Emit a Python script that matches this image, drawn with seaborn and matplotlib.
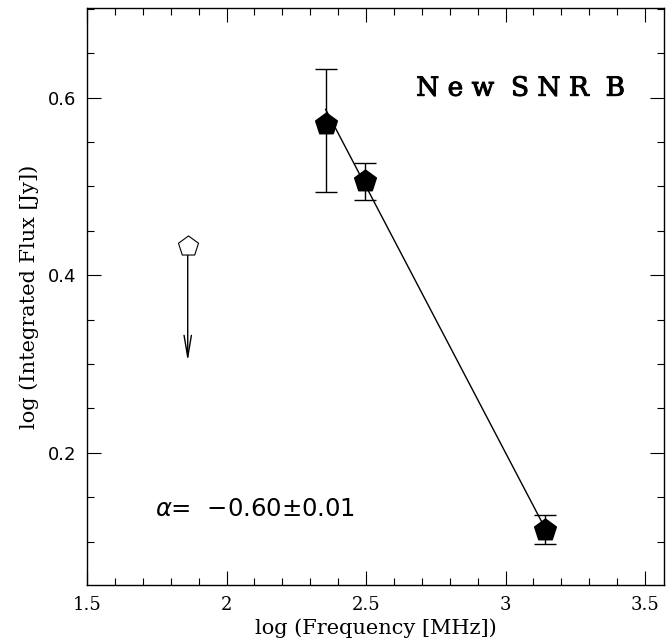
import numpy as np
import matplotlib
matplotlib.use('Agg')
import matplotlib.pyplot as plt
import matplotlib.patheffects as pe
import seaborn as sns
from matplotlib.ticker import MultipleLocator

# detections: log frequency [MHz], log integrated flux [Jy], asymmetric errors
log_freq = [2.355, 2.496, 3.140]
log_flux = [0.570, 0.506, 0.113]
err_lo = [0.076, 0.021, 0.016]
err_hi = [0.062, 0.020, 0.017]

# upper limit
ul_freq = [1.861]
ul_flux = [0.4325]
ul_end = [0.30]

# power-law fit
alpha = -0.60
alpha_err = 0.01
fit_const = 2.0
fit_range = [2.355, 3.14]

sns.set_theme(style='ticks')
plt.rcParams['font.family'] = ['DejaVu Serif']
plt.rcParams['text.color'] = 'black'
plt.rcParams['axes.labelcolor'] = 'black'
plt.rcParams['xtick.color'] = 'black'
plt.rcParams['ytick.color'] = 'black'

fig = plt.figure(figsize=(6.72, 6.44), dpi=100)
ax = fig.add_axes([87 / 672, 1 - 585 / 644, 577 / 672, 577 / 644])

fx = np.array(fit_range)
ax.plot(fx, fit_const + alpha * fx, color='black', lw=1.0, zorder=2)

ax.errorbar(log_freq, log_flux, yerr=[err_lo, err_hi], fmt='none',
            ecolor='black', elinewidth=1.0, capsize=7.8, capthick=1.0, zorder=3)
sns.scatterplot(x=log_freq, y=log_flux, marker='p', s=260, color='black',
                edgecolor='black', ax=ax, zorder=4, legend=False)

for x0, y0, y1 in zip(ul_freq, ul_flux, ul_end):
    ax.annotate('', xy=(x0, y1), xytext=(x0, y0),
                arrowprops=dict(arrowstyle='->, head_length=1.3, head_width=0.22',
                                color='black', lw=1.0), zorder=3)
sns.scatterplot(x=ul_freq, y=ul_flux, marker='p', s=230, facecolor='white',
                edgecolor='black', linewidth=0.8, ax=ax, zorder=4, legend=False)

ax.set_xlim(1.5, 3.568)
ax.set_ylim(0.051, 0.701)
ax.xaxis.set_major_locator(MultipleLocator(0.5))
ax.xaxis.set_minor_locator(MultipleLocator(0.1))
ax.yaxis.set_major_locator(MultipleLocator(0.2))
ax.yaxis.set_minor_locator(MultipleLocator(0.05))
ax.tick_params(which='both', direction='in', top=True, right=True,
               color='black', width=0.8)
ax.tick_params(which='major', length=10, pad=8)
ax.tick_params(which='minor', length=5)
for s in ax.spines.values():
    s.set_linewidth(1.0)
    s.set_color('black')

ax.set_xticks([1.5, 2, 2.5, 3, 3.5])
ax.set_xticklabels(['1.5', '2', '2.5', '3', '3.5'], fontsize=13,
                   family='DejaVu Serif')
ax.set_yticks([0.2, 0.4, 0.6])
ax.set_yticklabels(['0.2', '0.4', '0.6'], fontsize=13, family='DejaVu Sans')

ax.set_xlabel('log (Frequency [MHz])', fontsize=15, labelpad=3)
ax.set_ylabel('log (Integrated Flux [Jy])', fontsize=15, labelpad=6)

ax.text(0.932, 0.861, 'N e w  S N R  B', transform=ax.transAxes,
        ha='right', va='center', fontsize=19, family='DejaVu Serif',
        path_effects=[pe.withStroke(linewidth=0.7, foreground='black')])
ax.text(0.117, 0.132,
        r'$\alpha$=  $-$' + f'{abs(alpha):.2f}' + '\u00b1' + f'{alpha_err:.2f}',
        transform=ax.transAxes, ha='left', va='center', fontsize=17.5,
        family='DejaVu Sans')

fig.savefig('out.png', dpi=100)
